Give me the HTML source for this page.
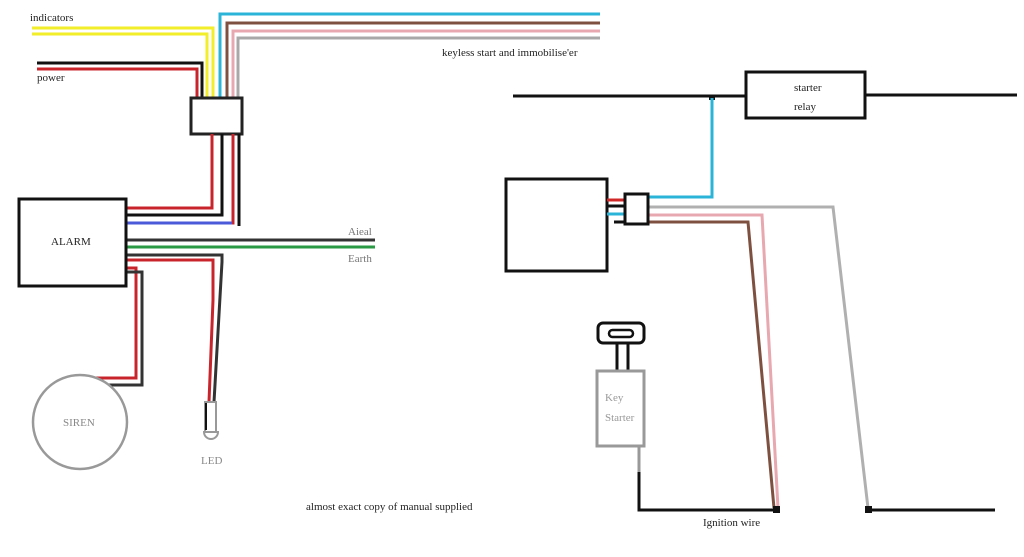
<!DOCTYPE html>
<html><head><meta charset="utf-8"><style>
html,body{margin:0;padding:0;background:#fff;width:1024px;height:557px;overflow:hidden}
svg{display:block}
text{font-family:"Liberation Serif",serif;font-size:11px;fill:#222}
</style></head><body>
<svg width="1024" height="557" viewBox="0 0 1024 557" xmlns="http://www.w3.org/2000/svg" fill="none" stroke-linejoin="miter">
<!-- top wires -->
<polyline points="32,28 213,28 213,97" stroke="#f2ee2a" stroke-width="3"/>
<polyline points="32,34 207,34 207,97" stroke="#f2ee2a" stroke-width="3"/>
<polyline points="600,14 220,14 220,97" stroke="#2ab4d8" stroke-width="3"/>
<polyline points="600,23 227,23 227,97" stroke="#7d5040" stroke-width="3"/>
<polyline points="600,31 233,31 233,97" stroke="#e8a8b0" stroke-width="3"/>
<polyline points="600,38 238,38 238,97" stroke="#a8a8a8" stroke-width="3"/>
<polyline points="37,63 202,63 202,97" stroke="#111" stroke-width="3"/>
<polyline points="37,69 197,69 197,97" stroke="#c8242c" stroke-width="3"/>
<rect x="191" y="98" width="51" height="36" stroke="#222" stroke-width="3" fill="#fff"/>
<!-- box to alarm -->
<polyline points="212,134 212,208 126,208" stroke="#c8242c" stroke-width="3"/>
<polyline points="222,134 222,215 126,215" stroke="#111" stroke-width="3"/>
<polyline points="233,134 233,223 126,223" stroke="#c8242c" stroke-width="3"/>
<line x1="126" y1="223" x2="232" y2="223" stroke="#4a5ad8" stroke-width="3"/>
<line x1="239" y1="134" x2="239" y2="226" stroke="#111" stroke-width="3"/>
<line x1="126" y1="240" x2="375" y2="240" stroke="#333" stroke-width="3"/>
<line x1="126" y1="247" x2="375" y2="247" stroke="#2a9a44" stroke-width="3"/>
<!-- LED wires -->
<polyline points="126,255 222,255 222,262 214,402" stroke="#333" stroke-width="3"/>
<polyline points="126,260 213,260 213,300 209,402" stroke="#c8242c" stroke-width="3"/>
<rect x="205" y="402" width="11" height="30" stroke="#999" stroke-width="2"/>
<line x1="206" y1="403" x2="206" y2="430" stroke="#111" stroke-width="2"/>
<path d="M204,432 A7,7 0 0 0 218,432 Z" stroke="#999" stroke-width="2"/>
<!-- siren wires -->
<polyline points="126,268 136,268 136,378 92,378" stroke="#c8242c" stroke-width="3"/>
<polyline points="126,272 142,272 142,385 98,385" stroke="#333" stroke-width="3"/>
<circle cx="80" cy="422" r="47" stroke="#999" stroke-width="2.5" fill="#fff"/>
<rect x="19" y="199" width="107" height="87" stroke="#111" stroke-width="3" fill="#fff"/>
<!-- right -->
<line x1="513" y1="96" x2="746" y2="96" stroke="#111" stroke-width="3"/>
<line x1="865" y1="95" x2="1017" y2="95" stroke="#111" stroke-width="3"/>
<rect x="746" y="72" width="119" height="46" stroke="#111" stroke-width="3" fill="#fff"/>
<rect x="709" y="95" width="6" height="5" fill="#111"/>
<polyline points="712,98 712,197 648,197" stroke="#2ab4d8" stroke-width="3"/>
<polyline points="648,207 833,207 868,508" stroke="#b0b0b0" stroke-width="3"/>
<polyline points="648,215 762,215 778,508" stroke="#e8a8b0" stroke-width="3"/>
<polyline points="648,222 748,222 774,508" stroke="#7d5040" stroke-width="3"/>
<rect x="506" y="179" width="101" height="92" stroke="#111" stroke-width="3" fill="#fff"/>
<line x1="607" y1="200" x2="624" y2="200" stroke="#d02828" stroke-width="3"/>
<line x1="607" y1="206" x2="624" y2="206" stroke="#111" stroke-width="3"/>
<line x1="607" y1="214" x2="624" y2="214" stroke="#2ab4d8" stroke-width="3"/>
<line x1="614" y1="222" x2="624" y2="222" stroke="#111" stroke-width="3"/>
<rect x="625" y="194" width="23" height="30" stroke="#111" stroke-width="3" fill="#fff"/>
<!-- key -->
<rect x="598" y="323" width="46" height="20" rx="5" stroke="#111" stroke-width="3" fill="#fff"/>
<rect x="609" y="330" width="24" height="7" rx="3.5" stroke="#111" stroke-width="2.5"/>
<line x1="617" y1="344" x2="617" y2="371" stroke="#111" stroke-width="3"/>
<line x1="628" y1="344" x2="628" y2="371" stroke="#111" stroke-width="3"/>
<rect x="597" y="371" width="47" height="75" stroke="#999" stroke-width="3" fill="#fff"/>
<line x1="639" y1="446" x2="639" y2="472" stroke="#999" stroke-width="3"/>
<polyline points="639,472 639,510 777,510" stroke="#111" stroke-width="3"/>
<line x1="868" y1="510" x2="995" y2="510" stroke="#111" stroke-width="3"/>
<rect x="773" y="506" width="7" height="7" fill="#111"/>
<rect x="865" y="506" width="7" height="7" fill="#111"/>
<!-- text -->
<text x="30" y="21">indicators</text>
<text x="37" y="81">power</text>
<text x="442" y="56">keyless start and immobilise'er</text>
<text x="51" y="245">ALARM</text>
<text x="348" y="235" style="fill:#777">Aieal</text>
<text x="348" y="262" style="fill:#777">Earth</text>
<text x="63" y="426" style="fill:#888">SIREN</text>
<text x="201" y="464" style="fill:#888">LED</text>
<text x="306" y="510">almost exact copy of manual supplied</text>
<text x="794" y="91">starter</text>
<text x="794" y="110">relay</text>
<text x="605" y="401" style="fill:#999">Key</text>
<text x="605" y="421" style="fill:#999">Starter</text>
<text x="703" y="526">Ignition wire</text>
</svg>
</body></html>
